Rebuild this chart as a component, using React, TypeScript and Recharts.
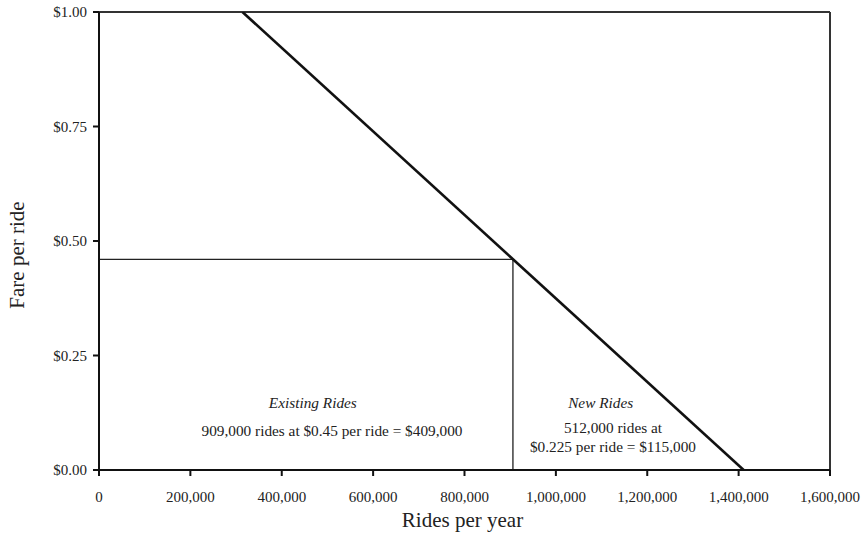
import { LineChart, Line, XAxis, YAxis, ReferenceLine, ReferenceDot, Label } from 'recharts';

const xTicks = [0, 200000, 400000, 600000, 800000, 1000000, 1200000, 1400000, 1600000];
const yTicks = [0, 0.25, 0.5, 0.75, 1];

// demand curve: fare falls from $1.00 to $0.00
const demandCurve = [
    { rides: 314000, fare: 1.0 },
    { rides: 1411000, fare: 0 },
];

// box marking existing rides at the current fare
const revenueBox = [
    { rides: 0, fare: 0.46 },
    { rides: 906000, fare: 0.46 },
    { rides: 906000, fare: 0 },
];

const notes = [
    { rides: 468000, fare: 0.146, text: 'Existing Rides', italic: true },
    { rides: 510000, fare: 0.087, text: '909,000 rides at $0.45 per ride = $409,000', italic: false },
    { rides: 1098000, fare: 0.146, text: 'New Rides', italic: true },
    { rides: 1125000, fare: 0.092, text: '512,000 rides at', italic: false },
    { rides: 1125000, fare: 0.05, text: '$0.225 per ride = $115,000', italic: false },
];

const FONT = '"Liberation Serif", "DejaVu Serif", serif';
const INK = '#222';

const fmtRides = (v: number) => (v === 0 ? '0' : v.toLocaleString('en-US'));
const fmtFare = (v: number) => '$' + v.toFixed(2);

export default function App() {
    return (
        <div style={{ position: 'absolute', left: 0, top: 0, background: '#fff' }}>
            <LineChart
                width={861}
                height={537}
                margin={{ top: 12, right: 31, bottom: 0, left: 0 }}
                style={{ fontFamily: FONT }}
            >
                <XAxis
                    type="number"
                    dataKey="rides"
                    domain={[0, 1600000]}
                    ticks={xTicks}
                    tickFormatter={fmtRides}
                    height={67}
                    stroke="#111"
                    strokeWidth={2}
                    tickSize={6}
                    tickMargin={15}
                    tick={{ fill: INK, fontSize: 15, fontFamily: FONT }}
                    allowDataOverflow
                >
                    <Label
                        content={({ viewBox }: any) => (
                            <text
                                x={viewBox.x + viewBox.width / 2 - 2}
                                y={viewBox.y + 57}
                                textAnchor="middle"
                                fill={INK}
                                fontSize={21}
                                fontFamily={FONT}
                            >
                                Rides per year
                            </text>
                        )}
                    />
                </XAxis>
                <YAxis
                    type="number"
                    dataKey="fare"
                    domain={[0, 1]}
                    ticks={yTicks}
                    tickFormatter={fmtFare}
                    width={99}
                    stroke="#111"
                    strokeWidth={2}
                    tickSize={6}
                    tickMargin={6}
                    tick={{ fill: INK, fontSize: 15, fontFamily: FONT }}
                    allowDataOverflow
                >
                    <Label
                        content={({ viewBox }: any) => {
                            const cx = viewBox.x + 24;
                            const cy = viewBox.y + viewBox.height / 2 + 14;
                            return (
                                <text
                                    x={cx}
                                    y={cy}
                                    transform={`rotate(-90, ${cx}, ${cy})`}
                                    textAnchor="middle"
                                    fill={INK}
                                    fontSize={21}
                                    fontFamily={FONT}
                                >
                                    Fare per ride
                                </text>
                            );
                        }}
                    />
                </YAxis>

                {/* frame: top and right edges */}
                <ReferenceLine y={1} stroke="#333" strokeWidth={2} />
                <ReferenceLine x={1600000} stroke="#333" strokeWidth={2} />

                <Line
                    data={revenueBox}
                    dataKey="fare"
                    type="linear"
                    stroke="#222"
                    strokeWidth={1.3}
                    dot={false}
                    isAnimationActive={false}
                />
                <Line
                    data={demandCurve}
                    dataKey="fare"
                    type="linear"
                    stroke="#111"
                    strokeWidth={2.6}
                    dot={false}
                    isAnimationActive={false}
                />

                {notes.map((n, i) => (
                    <ReferenceDot
                        key={i}
                        x={n.rides}
                        y={n.fare}
                        r={0}
                        shape={(p: any) => (
                            <text
                                x={p.cx}
                                y={p.cy}
                                dy="0.35em"
                                textAnchor="middle"
                                fill={INK}
                                fontSize={15.3}
                                fontStyle={n.italic ? 'italic' : 'normal'}
                                fontFamily={FONT}
                            >
                                {n.text}
                            </text>
                        )}
                    />
                ))}
            </LineChart>
        </div>
    );
}
